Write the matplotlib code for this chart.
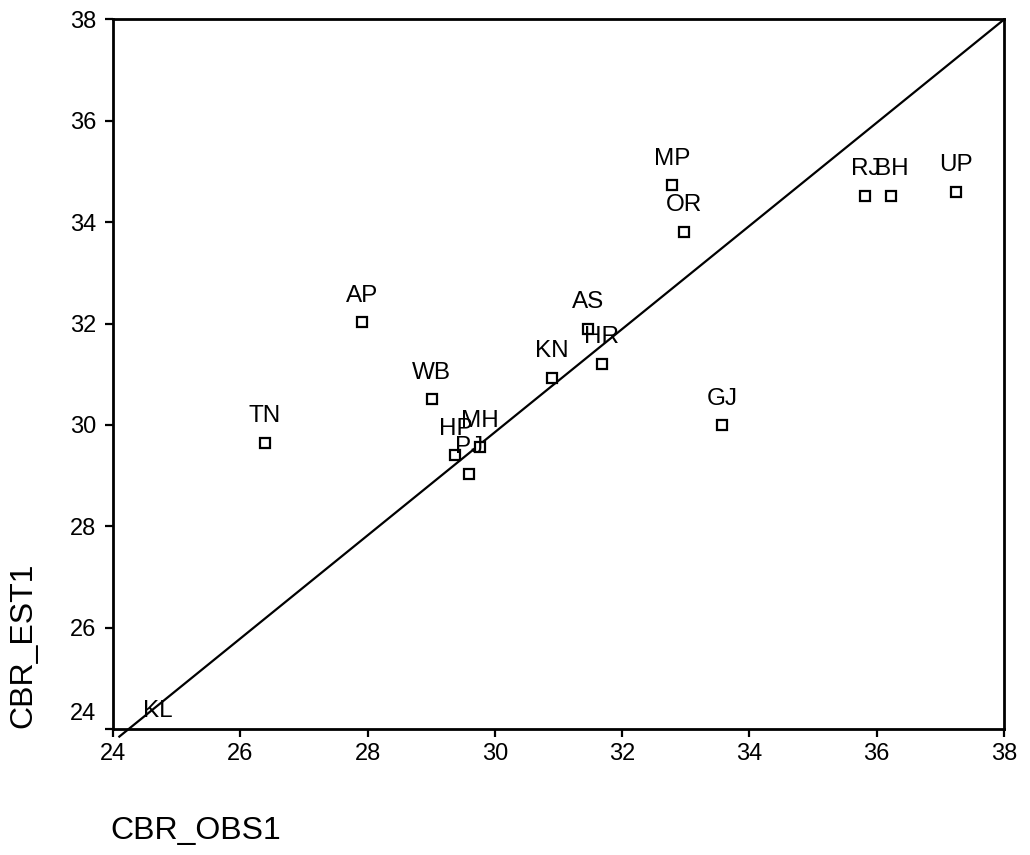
import matplotlib
matplotlib.use("Agg")
import matplotlib.pyplot as plt
from matplotlib.transforms import offset_copy

plt.rcParams['font.family'] = ['Liberation Sans', 'DejaVu Sans']

states = ['KL', 'TN', 'AP', 'WB', 'HP', 'PJ', 'MH', 'KN', 'AS', 'HR',
          'GJ', 'MP', 'OR', 'RJ', 'BH', 'UP']
cbr_obs = [24.71, 26.39, 27.92, 29.01, 29.38, 29.59, 29.77, 30.89, 31.46, 31.68,
           33.57, 32.78, 32.97, 35.82, 36.23, 37.25]
cbr_est = [23.84, 29.65, 32.03, 30.51, 29.40, 29.04, 29.56, 30.93, 31.90, 31.21,
           30.00, 34.73, 33.81, 34.52, 34.52, 34.60]

# reference line drawn across the plot
ref_x = [24.1, 38.0]
ref_y = [23.85, 38.0]

ticks = [24, 26, 28, 30, 32, 34, 36, 38]

fig = plt.figure(figsize=(10.30, 8.55), dpi=100)
ax = fig.add_axes([0.1097, 0.1474, 0.8651, 0.8298])

ax.plot(ref_x, ref_y, color='black', lw=1.6, clip_on=False, zorder=2)
ax.plot(cbr_obs, cbr_est, linestyle='none', marker='s', markersize=7,
        markerfacecolor='white', markeredgecolor='black', markeredgewidth=1.6,
        zorder=3)

for name, x, y in zip(states, cbr_obs, cbr_est):
    ax.annotate(name, (x, y), xytext=(0, 19), textcoords='offset points',
                ha='center', va='center', fontsize=17.5, annotation_clip=False,
                zorder=4)

ax.set_xlim(24, 38)
ax.set_ylim(24, 38)
ax.set_xticks(ticks)
ax.set_yticks(ticks)
ax.tick_params(axis='both', direction='out', length=6, width=1.6,
               labelsize=17, top=False, right=False)
ax.tick_params(axis='x', pad=4)
ax.tick_params(axis='y', pad=6)
for sp in ax.spines.values():
    sp.set_linewidth(2)

# the bottom y label sits above the corner
lab = ax.get_yticklabels()[0]
lab.set_va('bottom')
lab.set_transform(offset_copy(lab.get_transform(), fig=fig, x=0, y=3, units='points'))

fig.text(0.107, 0.010, 'CBR_OBS1', ha='left', va='bottom', fontsize=23)
fig.text(0.023, 0.148, 'CBR_EST1', rotation=90, ha='center', va='bottom', fontsize=23)

fig.savefig('out.png', dpi=100)
